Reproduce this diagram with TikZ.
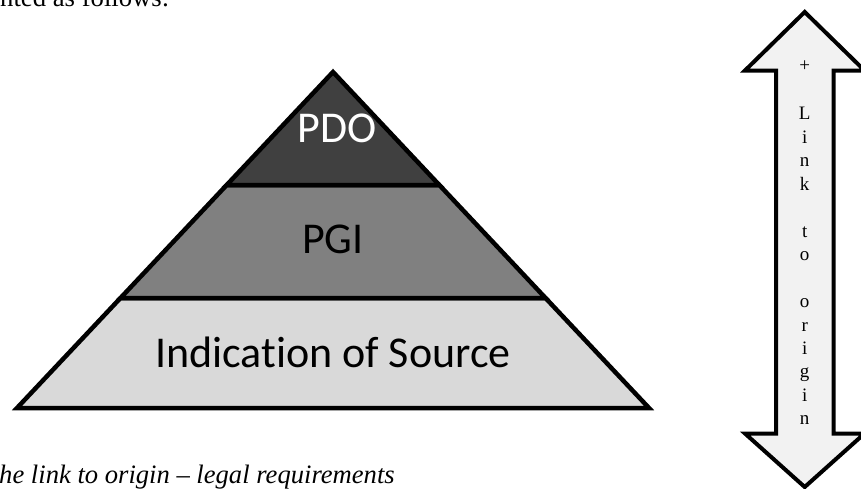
\documentclass[tikz,border=0pt]{standalone}
\usepackage{fontspec}
\setmainfont{Liberation Serif}
\newfontfamily\calibrifont[Ligatures=NoCommon]{Carlito}
\begin{document}
\begin{tikzpicture}[x=1pt,y=-1pt,
  outline/.style={draw=black,line width=4.5pt,line join=miter},
  layerlabel/.style={font=\calibrifont\fontsize{44}{52}\selectfont,anchor=base,inner sep=0pt},
  arrowletter/.style={font=\fontsize{19}{23}\selectfont,anchor=base,inner sep=0pt},
  bodytext/.style={font=\fontsize{26.7}{32}\selectfont,anchor=base west,inner sep=0pt},
  captiontext/.style={font=\itshape\fontsize{26.6}{32}\selectfont,anchor=base west,inner sep=0pt}]
\useasboundingbox (0,0) rectangle (861,488);
\begin{scope}
\clip (0,0) rectangle (861,488);
% pyramid layers
\path[outline,fill=black!15] (120.5,298) -- (545.5,298) -- (649,408) -- (17,408) -- cycle;
\path[outline,fill=black!50] (226.7,185) -- (439.3,185) -- (545.5,298) -- (120.5,298) -- cycle;
\path[outline,fill=black!75] (333,72) -- (439.3,185) -- (226.7,185) -- cycle;
\node[layerlabel,text=white] (pdo) at (337,142) {PDO};
\node[layerlabel] (pgi) at (333,253) {PGI};
\node[layerlabel] (ios) at (333,367) {Indication of Source};
% double arrow
\path[draw=black,line width=4pt,fill=black!5,line join=miter]
  (804.7,12) -- (864.5,70.5) -- (833.5,70.5) -- (833.5,433.5) -- (864.5,433.5) -- (804.7,487)
  -- (745,433.5) -- (776,433.5) -- (776,70.5) -- (745,70.5) -- cycle;
\node[arrowletter] (plus) at (804.7,71) {+};
\foreach \ch/\k in {L/2, i/3, n/4, k/5, t/7, o/8, o/10, r/11, i/12, g/13, i/14, n/15}
  \node[arrowletter] (l\k) at (804.7,{73+23.46*\k}) {\ch};
% surrounding text
\node[bodytext] (top) at (0,6) {nted as follows:};
\node[captiontext] (cap) at (-1,483) {he link to origin – legal requirements};
\end{scope}
\end{tikzpicture}
\end{document}
